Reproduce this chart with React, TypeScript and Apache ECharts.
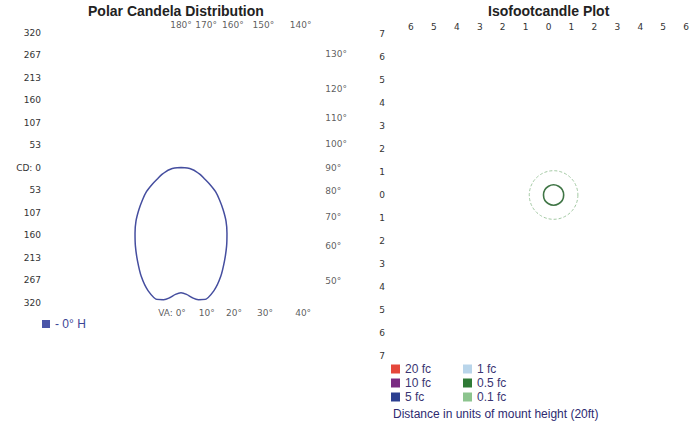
import React, { useEffect, useRef } from "react";
import * as echarts from "echarts";

// ---- Polar candela distribution data (vertical angle from nadir, candela) ----
const VA_ANGLES = [0, 2.5, 5, 7.5, 10, 15, 20, 25, 30, 35, 40, 45, 50, 55, 60, 65, 70, 75, 80, 85, 90];
const CANDELA = [297, 301, 310, 316, 318, 302, 275, 244, 216, 190, 166, 141, 119, 100, 78, 60, 48, 37, 27, 15, 0];
const CD_MAX = 320;
const CD_STEPS = 6;

// ---- angle tick labels around the polar box ----
const TOP_ANGLES = [180, 170, 160, 150, 140];
const SIDE_ANGLES = [130, 120, 110, 100, 90, 80, 70, 60, 50];
const BOTTOM_ANGLES = [0, 10, 20, 30, 40];

// ---- Isofootcandle data ----
const ISO_LEVELS = ["20 fc", "10 fc", "5 fc", "1 fc", "0.5 fc", "0.1 fc"];
const ISO_COLORS = ["#e5473b", "#7a2a82", "#2c3f90", "#b9d5ea", "#2f7a36", "#8cc48e"];
const ISO_RADII = [0, 0, 0, 0, 0.44, 1.06]; // 0 = no contour drawn
const ISO_CENTER = [0.22, 0];
const ISO_RANGE = 7;
const ISO_X_MAX = 6.1; // plot is cut at the right edge of the picture

const TICK_FONT = { fontFamily: "DejaVu Sans", fontSize: 9, color: "#333" };
const RAD = Math.PI / 180;

export default function App() {
  const ref = useRef<HTMLDivElement>(null);

  useEffect(() => {
    if (!ref.current) return;
    const chart = echarts.init(ref.current, null, { renderer: "svg" });

    // polar line: left half (angle) then right half (360 - angle)
    const polarData: number[][] = [];
    for (let i = VA_ANGLES.length - 1; i >= 0; i--) polarData.push([CANDELA[i], VA_ANGLES[i]]);
    for (let i = 1; i < VA_ANGLES.length; i++) polarData.push([CANDELA[i], 360 - VA_ANGLES[i]]);

    // label anchors in candela units on the overlay grid
    const TOP_Y = 338;
    const SIDE_RAY_X = 322;
    const SIDE_TEXT_X = 341;
    const BOTTOM_Y = -345;
    const angleLabels: any[] = [
      ...TOP_ANGLES.map((a) => ({
        value: [Math.tan((180 - a) * RAD) * TOP_Y, TOP_Y],
        name: a + "°",
      })),
      ...SIDE_ANGLES.map((a) => ({
        value: [SIDE_TEXT_X, Math.tan((a - 90) * RAD) * SIDE_RAY_X],
        name: a + "°",
        label: { position: "right", distance: 0 },
      })),
      ...BOTTOM_ANGLES.map((a) => ({
        value: [Math.tan(a * RAD) * -BOTTOM_Y, BOTTOM_Y],
        name: a === 0 ? "VA: 0°" : a + "°",
        label: a === 0 ? { offset: [-9, 0] } : undefined,
      })),
    ];

    const cdInterval = CD_MAX / CD_STEPS;

    const isoSeries = ISO_LEVELS.map((name, i) => ({
      name,
      type: "custom",
      xAxisIndex: 1,
      yAxisIndex: 1,
      silent: true,
      clip: false,
      itemStyle: { color: ISO_COLORS[i] },
      data: ISO_RADII[i] > 0 ? [[ISO_CENTER[0], ISO_CENTER[1], ISO_RADII[i]]] : [],
      renderItem: (params: any, api: any) => {
        const c = api.coord([api.value(0), api.value(1)]);
        const r = api.size([api.value(2), 0])[0];
        const outer = name === "0.1 fc";
        return {
          type: "circle",
          shape: { cx: c[0], cy: c[1], r },
          style: {
            fill: "none",
            stroke: outer ? "#a3c9a3" : "#3f7545",
            lineWidth: outer ? 1 : 1.6,
            lineDash: outer ? [3, 2] : null,
          },
        };
      },
    }));

    const legendText = { fontFamily: "Liberation Sans", fontSize: 12, color: "#3a3572", lineHeight: 12 };

    chart.setOption({
      animation: false,
      title: [
        {
          text: "Polar Candela Distribution",
          left: 88,
          top: 4,
          padding: 0,
          textStyle: { fontFamily: "Liberation Sans", fontSize: 14, fontWeight: "bold", color: "#222" },
        },
        {
          text: "Isofootcandle Plot",
          left: 488,
          top: 4,
          padding: 0,
          textStyle: { fontFamily: "Liberation Sans", fontSize: 14, fontWeight: "bold", color: "#222" },
        },
        {
          text: "Distance in units of mount height (20ft)",
          left: 393,
          top: 408,
          padding: 0,
          textStyle: { fontFamily: "Liberation Sans", fontSize: 12, fontWeight: "normal", color: "#2e2a70", lineHeight: 12 },
        },
      ],
      legend: [
        {
          data: ["0° H"],
          formatter: "- {name}",
          left: 42,
          top: 318,
          padding: 0,
          icon: "rect",
          itemWidth: 8,
          itemHeight: 8,
          itemGap: 4,
          textStyle: { fontFamily: "Liberation Sans", fontSize: 12, color: "#3b4596" },
        },
        {
          data: ISO_LEVELS.slice(0, 3),
          orient: "vertical",
          left: 391,
          top: 363,
          padding: 0,
          icon: "rect",
          itemWidth: 9,
          itemHeight: 9,
          itemGap: 2,
          textStyle: legendText,
        },
        {
          data: ISO_LEVELS.slice(3),
          orient: "vertical",
          left: 463,
          top: 363,
          padding: 0,
          icon: "rect",
          itemWidth: 9,
          itemHeight: 9,
          itemGap: 2,
          textStyle: legendText,
        },
      ],
      polar: { center: [181, 167.5], radius: 135 },
      angleAxis: { type: "value", min: 0, max: 360, startAngle: 270, clockwise: true, show: false },
      radiusAxis: { type: "value", min: 0, max: CD_MAX, show: false },
      grid: [
        { left: 46, top: 32.5, width: 270, height: 270 },
        { left: 388, top: 34, width: 303, height: 322 },
      ],
      xAxis: [
        {
          gridIndex: 0,
          type: "value",
          min: -CD_MAX,
          max: CD_MAX,
          show: false,
        },
        {
          gridIndex: 1,
          type: "value",
          position: "top",
          min: -ISO_RANGE,
          max: ISO_X_MAX,
          interval: 1,
          axisLine: { show: false },
          axisTick: { show: false },
          splitLine: { show: false },
          axisLabel: {
            ...TICK_FONT,
            margin: 3,
            formatter: (v: number) => (Math.abs(v) >= ISO_RANGE ? "" : String(Math.abs(v))),
          },
        },
      ],
      yAxis: [
        {
          gridIndex: 0,
          type: "value",
          min: -CD_MAX,
          max: CD_MAX,
          interval: cdInterval,
          axisLine: { show: false },
          axisTick: { show: false },
          splitLine: { show: false },
          axisLabel: {
            ...TICK_FONT,
            margin: 5,
            formatter: (v: number) => (Math.abs(v) < 1e-6 ? "CD: 0" : String(Math.round(Math.abs(v)))),
          },
        },
        {
          gridIndex: 1,
          type: "value",
          min: -ISO_RANGE,
          max: ISO_RANGE,
          interval: 1,
          axisLine: { show: false },
          axisTick: { show: false },
          splitLine: { show: false },
          axisLabel: {
            ...TICK_FONT,
            margin: 3,
            formatter: (v: number) => String(Math.abs(v)),
          },
        },
      ],
      series: [
        {
          name: "0° H",
          type: "line",
          coordinateSystem: "polar",
          data: polarData,
          smooth: 0.3,
          showSymbol: false,
          silent: true,
          itemStyle: { color: "#4a55a8" },
          lineStyle: { color: "#454e9f", width: 1.5 },
        },
        {
          name: "angleLabels",
          type: "scatter",
          xAxisIndex: 0,
          yAxisIndex: 0,
          clip: false,
          silent: true,
          symbolSize: 1,
          itemStyle: { color: "rgba(0,0,0,0)" },
          label: {
            show: true,
            position: "inside",
            formatter: (p: any) => p.name,
            ...TICK_FONT,
          },
          data: angleLabels,
        },
        ...isoSeries,
      ],
    } as any);

    return () => chart.dispose();
  }, []);

  return <div ref={ref} style={{ position: "absolute", left: 0, top: 0, width: 692, height: 424 }} />;
}
